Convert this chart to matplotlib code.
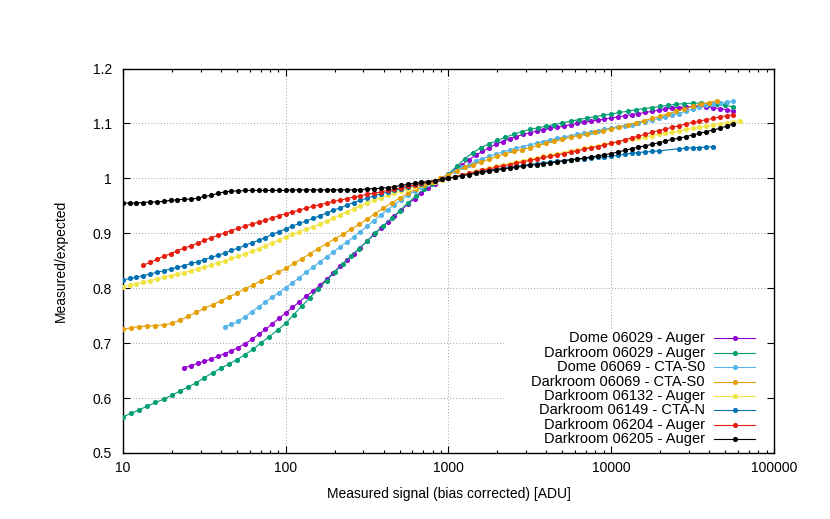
import numpy as np
import matplotlib
matplotlib.use("Agg")
import matplotlib.pyplot as plt
from matplotlib.lines import Line2D
from matplotlib.ticker import FixedLocator, LogLocator, FuncFormatter, NullLocator

plt.rcParams['font.family'] = ['Liberation Sans', 'DejaVu Sans']

# Measured signal grids [ADU] (two sampling densities used by the runs)
SIGNAL_A = [10, 11.0, 12.1, 13.3, 14.7, 16.2, 17.8, 19.6, 21.5, 23.7, 26.1, 28.7, 31.6, 34.8,
            38.3, 42.2, 46.4, 51.1, 56.2, 61.9, 68.1, 75.0, 82.5, 90.9,
            100, 110, 121, 133, 147, 162, 178, 196, 215, 237, 261, 287, 316, 348,
            383, 422, 464, 511, 562, 619, 681, 750, 825, 909,
            1000, 1101, 1211, 1334, 1468, 1616, 1778, 1957, 2154, 2371, 2610, 2873, 3162, 3481,
            3831, 4217, 4642, 5109, 5623, 6190, 6813, 7499, 8254, 9085,
            10000, 11007, 12115, 13335, 14678, 16156, 17783, 19573, 21544, 23714, 26102, 28730,
            31623, 34807, 38312, 42170, 46416, 51090, 56234, 61897]
SIGNAL_B = [10, 11.2, 12.6, 14.1, 15.8, 17.8, 20.0, 22.4, 25.1, 28.2, 31.6, 35.5, 39.8, 44.7,
            50.1, 56.2, 63.1, 70.8, 79.4, 89.1,
            100, 112, 126, 141, 158, 178, 200, 224, 251, 282, 316, 355, 398, 447, 501, 562,
            631, 708, 794, 891,
            1000, 1122, 1259, 1413, 1585, 1778, 1995, 2239, 2512, 2818, 3162, 3548, 3981, 4467,
            5012, 5623, 6310, 7079, 7943, 8913,
            10000, 11220, 12589, 14125, 15849, 17783, 19953, 22387, 25119, 28184, 31623, 35481,
            39811, 44668, 50119, 56234]

LABELS = ["Dome 06029 - Auger", "Darkroom 06029 - Auger", "Dome 06069 - CTA-S0",
          "Darkroom 06069 - CTA-S0", "Darkroom 06132 - Auger", "Darkroom 06149 - CTA-N",
          "Darkroom 06204 - Auger", "Darkroom 06205 - Auger"]
GRID_OF = ["A", "B", "A", "B", "A", "A", "A", "A"]
FIRST_SIGNAL = [23.7, 10, 42.2, 10, 10, 10, 13.3, 10]

dome_06029_auger = [
    0.655, 0.659, 0.663, 0.667, 0.671, 0.676, 0.681, 0.686, 0.692, 0.699,
    0.707, 0.716, 0.725, 0.735, 0.745, 0.755, 0.765, 0.775, 0.785, 0.795,
    0.805, 0.816, 0.828, 0.840, 0.851, 0.862, 0.874, 0.886, 0.898, 0.909,
    0.920, 0.931, 0.942, 0.953, 0.963, 0.973, 0.982, 0.990, 0.998, 1.006,
    1.016, 1.025, 1.034, 1.042, 1.049, 1.056, 1.062, 1.067, 1.072, 1.076,
    1.080, 1.083, 1.086, 1.088, 1.091, 1.093, 1.095, 1.098, 1.100, 1.102,
    1.104, 1.106, 1.108, 1.110, 1.112, 1.114, 1.116, 1.118, 1.120, 1.122,
    1.124, 1.126, 1.128, 1.129, 1.130, 1.131, 1.131, 1.130, 1.129, 1.127,
    1.125, 1.122]
darkroom_06029_auger = [
    0.566, 0.572, 0.579, 0.585, 0.592, 0.598, 0.605, 0.613, 0.620, 0.628,
    0.637, 0.646, 0.654, 0.662, 0.670, 0.679, 0.689, 0.701, 0.712, 0.724,
    0.736, 0.752, 0.768, 0.783, 0.799, 0.814, 0.829, 0.844, 0.858, 0.872,
    0.886, 0.900, 0.914, 0.927, 0.941, 0.955, 0.968, 0.980, 0.990, 0.999,
    1.008, 1.022, 1.036, 1.047, 1.056, 1.063, 1.069, 1.075, 1.080, 1.085,
    1.089, 1.092, 1.095, 1.098, 1.101, 1.104, 1.107, 1.110, 1.112, 1.115,
    1.117, 1.120, 1.122, 1.125, 1.127, 1.129, 1.131, 1.133, 1.135, 1.136,
    1.137, 1.137, 1.136, 1.135, 1.133, 1.130]
dome_06069_cta_s0 = [
    0.730, 0.734, 0.740, 0.748, 0.757, 0.766, 0.775, 0.784, 0.792, 0.801,
    0.810, 0.819, 0.829, 0.838, 0.848, 0.857, 0.866, 0.875, 0.884, 0.893,
    0.903, 0.913, 0.923, 0.933, 0.943, 0.952, 0.961, 0.969, 0.977, 0.984,
    0.990, 0.995, 1.000, 1.007, 1.014, 1.020, 1.025, 1.031, 1.036, 1.040,
    1.044, 1.048, 1.052, 1.055, 1.058, 1.061, 1.064, 1.067, 1.070, 1.073,
    1.075, 1.078, 1.080, 1.082, 1.085, 1.087, 1.089, 1.092, 1.094, 1.096,
    1.098, 1.101, 1.103, 1.106, 1.109, 1.112, 1.115, 1.118, 1.122, 1.126,
    1.130, 1.133, 1.136, 1.138, 1.139, 1.140]
darkroom_06069_cta_s0 = [
    0.725, 0.728, 0.730, 0.731, 0.732, 0.733, 0.736, 0.742, 0.749, 0.756,
    0.764, 0.770, 0.777, 0.784, 0.791, 0.799, 0.806, 0.814, 0.821, 0.829,
    0.836, 0.845, 0.854, 0.863, 0.872, 0.881, 0.890, 0.898, 0.907, 0.916,
    0.926, 0.936, 0.946, 0.955, 0.964, 0.973, 0.981, 0.988, 0.994, 1.000,
    1.007, 1.014, 1.020, 1.025, 1.030, 1.035, 1.040, 1.045, 1.049, 1.052,
    1.056, 1.060, 1.064, 1.068, 1.071, 1.075, 1.078, 1.081, 1.084, 1.087,
    1.090, 1.093, 1.097, 1.101, 1.105, 1.109, 1.113, 1.118, 1.122, 1.127,
    1.131, 1.135, 1.138, 1.141]
darkroom_06132_auger = [
    0.803, 0.806, 0.808, 0.811, 0.814, 0.817, 0.820, 0.823, 0.826, 0.828,
    0.832, 0.835, 0.839, 0.842, 0.846, 0.850, 0.855, 0.858, 0.863, 0.868,
    0.872, 0.877, 0.883, 0.888, 0.893, 0.898, 0.903, 0.907, 0.912, 0.917,
    0.922, 0.928, 0.933, 0.939, 0.945, 0.950, 0.955, 0.960, 0.965, 0.969,
    0.973, 0.977, 0.981, 0.984, 0.988, 0.991, 0.994, 0.997, 1.000, 1.003,
    1.007, 1.010, 1.013, 1.016, 1.019, 1.022, 1.025, 1.027, 1.030, 1.032,
    1.035, 1.037, 1.040, 1.042, 1.045, 1.047, 1.050, 1.052, 1.055, 1.057,
    1.059, 1.062, 1.064, 1.066, 1.069, 1.071, 1.073, 1.075, 1.078, 1.080,
    1.082, 1.084, 1.086, 1.089, 1.091, 1.093, 1.095, 1.097, 1.099, 1.101,
    1.103, 1.104]
darkroom_06149_cta_n = [
    0.815, 0.818, 0.820, 0.823, 0.826, 0.829, 0.832, 0.835, 0.838, 0.841,
    0.845, 0.848, 0.852, 0.856, 0.860, 0.864, 0.869, 0.873, 0.878, 0.883,
    0.887, 0.892, 0.898, 0.903, 0.908, 0.913, 0.918, 0.922, 0.927, 0.932,
    0.937, 0.942, 0.946, 0.951, 0.956, 0.960, 0.964, 0.968, 0.972, 0.975,
    0.978, 0.981, 0.984, 0.987, 0.990, 0.993, 0.995, 0.998, 1.000, 1.003,
    1.006, 1.008, 1.011, 1.013, 1.015, 1.017, 1.019, 1.021, 1.022, 1.024,
    1.025, 1.027, 1.028, 1.030, 1.031, 1.032, 1.034, 1.035, 1.036, 1.037,
    1.038, 1.039, 1.040, 1.042, 1.044, 1.046, 1.047, 1.048, 1.049, 1.050,
    None, None, 1.054, 1.055, 1.056, 1.056, 1.057, 1.058]
darkroom_06204_auger = [
    0.842, 0.847, 0.853, 0.858, 0.863, 0.868, 0.873, 0.877, 0.882, 0.887,
    0.892, 0.896, 0.901, 0.905, 0.909, 0.913, 0.917, 0.920, 0.924, 0.928,
    0.932, 0.936, 0.939, 0.942, 0.946, 0.949, 0.952, 0.955, 0.958, 0.960,
    0.963, 0.966, 0.968, 0.971, 0.973, 0.975, 0.978, 0.980, 0.983, 0.986,
    0.988, 0.991, 0.993, 0.995, 0.998, 1.000, 1.003, 1.006, 1.009, 1.012,
    1.015, 1.017, 1.020, 1.023, 1.025, 1.028, 1.030, 1.033, 1.035, 1.038,
    1.040, 1.043, 1.045, 1.048, 1.050, 1.053, 1.056, 1.058, 1.061, 1.064,
    1.067, 1.070, 1.074, 1.077, 1.080, 1.084, 1.087, 1.090, 1.093, 1.096,
    1.099, 1.102, 1.104, 1.107, 1.109, 1.112, 1.114, 1.116]
darkroom_06205_auger = [
    0.955, 0.955, 0.955, 0.956, 0.957, 0.957, 0.958, 0.960, 0.961, 0.962,
    0.962, 0.964, 0.967, 0.969, 0.973, 0.975, 0.977, 0.977, 0.978, 0.978,
    0.978, 0.978, 0.978, 0.978, 0.978, 0.979, 0.979, 0.979, 0.979, 0.979,
    0.979, 0.979, 0.979, 0.979, 0.979, 0.979, 0.981, 0.981, 0.982, 0.983,
    0.985, 0.987, 0.989, 0.991, 0.993, 0.994, 0.996, 0.998, 1.000, 1.002,
    1.005, 1.007, 1.009, 1.011, 1.013, 1.015, 1.017, 1.019, 1.020, 1.022,
    1.024, 1.025, 1.027, 1.028, 1.030, 1.032, 1.034, 1.035, 1.037, 1.039,
    1.041, 1.043, 1.045, 1.048, 1.051, 1.054, 1.057, 1.059, 1.062, 1.065,
    1.068, 1.071, 1.073, 1.076, 1.079, 1.082, 1.085, 1.088, 1.091, 1.095,
    1.099]

SERIES = [dome_06029_auger, darkroom_06029_auger, dome_06069_cta_s0, darkroom_06069_cta_s0,
          darkroom_06132_auger, darkroom_06149_cta_n, darkroom_06204_auger, darkroom_06205_auger]
COLORS = ['#9400d3', '#009e73', '#56b4e9', '#e69f00', '#f0e442', '#0072b2', '#e51e10', '#000000']

X_TICKS = [10, 100, 1000, 10000, 100000]
Y_TICKS = [0.5, 0.6, 0.7, 0.8, 0.9, 1.0, 1.1, 1.2]

GRIDS = {"A": SIGNAL_A, "B": SIGNAL_B}

fig = plt.figure(figsize=(8.3, 5.19), dpi=100)
ax = fig.add_axes([0.1482, 0.1272, 0.7843, 0.7408])
ax.set_xscale('log')
ax.set_xlim(10, 100000)
ax.set_ylim(0.5, 1.2)

# legend box region (axes fraction) - grid is hidden there
BOX_X0, BOX_Y1 = 0.584, 0.325
grid_kw = dict(color='#a0a0a0', lw=0.7, ls=(0, (1, 2.2)), zorder=0.6)
for yv in Y_TICKS[1:-1]:
    ax.axhline(yv, xmin=0, xmax=(BOX_X0 if yv < 0.5 + BOX_Y1 * 0.7 else 1), **grid_kw)
for xv in X_TICKS[1:-1]:
    xf = (np.log10(xv) - 1) / 4
    ax.axvline(xv, ymin=(BOX_Y1 if xf > BOX_X0 else 0), ymax=1, **grid_kw)

for i, (vals, gname, start, col) in enumerate(zip(SERIES, GRID_OF, FIRST_SIGNAL, COLORS)):
    grid = GRIDS[gname]
    i0 = grid.index(start)
    x = np.array(grid[i0:i0 + len(vals)], dtype=float)
    y = np.array([np.nan if v is None else v for v in vals], dtype=float)
    m = ~np.isnan(y)
    ax.plot(x[m], y[m], '-', color=col, lw=0.8, marker='o', ms=3.7, mew=0, zorder=3 + i)

# legend (right-aligned text, sample to the right)
for i, (lab, col) in enumerate(zip(LABELS, COLORS)):
    yf = 0.298 - i * 0.0374
    ax.text(0.894, yf, lab, ha='right', va='center', transform=ax.transAxes, fontsize=10.5, zorder=20)
    ax.add_line(Line2D([0.908, 0.971], [yf, yf], transform=ax.transAxes, color=col, lw=0.8, zorder=20))
    ax.add_line(Line2D([0.9395], [yf], transform=ax.transAxes, color=col, marker='o', ms=3.7,
                       mew=0, lw=0, zorder=21))

ax.xaxis.set_major_locator(FixedLocator(X_TICKS))
ax.xaxis.set_minor_locator(LogLocator(base=10, subs=[2, 3, 4, 5, 6, 7, 8, 9]))
ax.xaxis.set_major_formatter(FuncFormatter(lambda v, p: f"{v:.0f}"))
ax.yaxis.set_major_locator(FixedLocator(Y_TICKS))
ax.yaxis.set_minor_locator(NullLocator())
ax.yaxis.set_major_formatter(FuncFormatter(lambda v, p: f"{v:g}"))

ax.tick_params(which='both', direction='in', top=True, right=True, width=0.8, labelsize=10)
ax.tick_params(which='major', length=4.8)
ax.tick_params(which='minor', length=2.4)
ax.tick_params(axis='x', pad=6)
ax.tick_params(axis='y', pad=8)
for s in ax.spines.values():
    s.set_linewidth(1.0)

ax.set_xlabel("Measured signal (bias corrected) [ADU]", fontsize=10)
ax.set_ylabel("Measured/expected", fontsize=10)
ax.xaxis.set_label_coords(0.5, -0.089)
ax.yaxis.set_label_coords(-0.084, 0.5)

fig.savefig("out.png", dpi=100)
